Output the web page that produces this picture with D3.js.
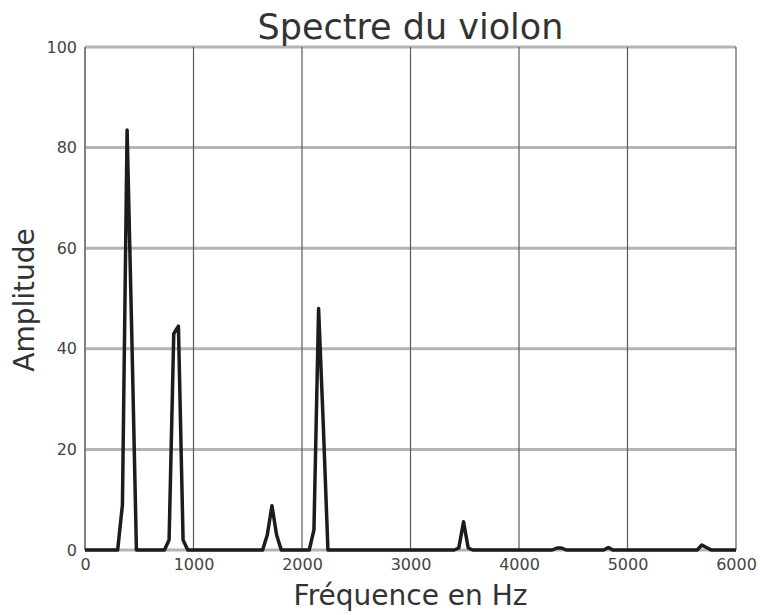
<!DOCTYPE html>
<html>
<head>
<meta charset="utf-8">
<script src="https://cdn.jsdelivr.net/npm/d3@7"></script>
<style>
  body { margin: 0; background: #fff; }
  svg { display: block; font-family: "DejaVu Sans", sans-serif; }
</style>
</head>
<body>
<svg id="chart" width="760" height="615"></svg>
<script>
// Spectre du violon
const freqs = [0, 301, 345, 388, 431, 474, 732, 775, 818, 861, 904, 947,
  1637, 1680, 1723, 1766, 1809, 2067, 2110, 2153, 2196, 2239,
  3402, 3445, 3489, 3532, 3575, 4307, 4350, 4393, 4436,
  4780, 4823, 4866, 5642, 5685, 5728, 5771, 6000];
const amps = [0, 0, 9, 83.5, 43, 0, 0, 2, 43, 44.5, 2, 0,
  0, 3, 8.8, 3, 0, 0, 4, 48, 25, 0,
  0, 0.4, 5.6, 0.4, 0, 0, 0.4, 0.4, 0,
  0, 0.5, 0, 0, 1.0, 0.5, 0, 0];
const xTicks = [0, 1000, 2000, 3000, 4000, 5000, 6000];
const yTicks = [0, 20, 40, 60, 80, 100];

const svg = d3.select('#chart');
const plotL = 85, plotR = 736, plotT = 47, plotB = 550;

const x = d3.scaleLinear().domain([0, 6000]).range([plotL, plotR]);
const y = d3.scaleLinear().domain([0, 100]).range([plotB, plotT]);

// Horizontal grid (light, thick)
svg.append('g')
  .selectAll('line')
  .data(yTicks)
  .join('line')
  .attr('x1', plotL).attr('x2', plotR)
  .attr('y1', d => y(d)).attr('y2', d => y(d))
  .attr('stroke', '#b4b4b4')
  .attr('stroke-width', 3);

// Vertical grid (thin, dark)
svg.append('g')
  .selectAll('line')
  .data(xTicks)
  .join('line')
  .attr('x1', d => x(d)).attr('x2', d => x(d))
  .attr('y1', plotT).attr('y2', plotB)
  .attr('stroke', '#5a5a5a')
  .attr('stroke-width', 1.2);

// Left spine
svg.append('line')
  .attr('x1', plotL).attr('x2', plotL)
  .attr('y1', plotT).attr('y2', plotB)
  .attr('stroke', '#777')
  .attr('stroke-width', 1.5);

// Axes (labels only)
const xAxis = svg.append('g')
  .attr('transform', `translate(0,${plotB})`)
  .call(d3.axisBottom(x).tickValues(xTicks).tickSize(0).tickPadding(9).tickFormat(d3.format('d')));
const yAxis = svg.append('g')
  .attr('transform', `translate(${plotL},0)`)
  .call(d3.axisLeft(y).tickValues(yTicks).tickSize(0).tickPadding(8).tickFormat(d3.format('d')));
[xAxis, yAxis].forEach(a => {
  a.select('.domain').remove();
  a.selectAll('text')
    .attr('fill', '#444')
    .style('font-size', '16px')
    .style('font-family', '"DejaVu Sans", sans-serif');
});

// Spectrum line
const pts = freqs.map((f, i) => [f, amps[i]]);
svg.append('path')
  .datum(pts)
  .attr('fill', 'none')
  .attr('stroke', '#1c1c1c')
  .attr('stroke-width', 3.5)
  .attr('stroke-linejoin', 'round')
  .attr('d', d3.line().x(d => x(d[0])).y(d => y(d[1])));

// Titles
svg.append('text')
  .attr('x', (plotL + plotR) / 2)
  .attr('y', 39)
  .attr('text-anchor', 'middle')
  .attr('fill', '#333')
  .style('font-size', '35px')
  .text('Spectre du violon');

svg.append('text')
  .attr('x', (plotL + plotR) / 2)
  .attr('y', 605)
  .attr('text-anchor', 'middle')
  .attr('fill', '#333')
  .style('font-size', '28px')
  .text('Fréquence en Hz');

svg.append('text')
  .attr('transform', `translate(34,300) rotate(-90)`)
  .attr('text-anchor', 'middle')
  .attr('fill', '#333')
  .style('font-size', '28px')
  .text('Amplitude');
</script>
</body>
</html>
